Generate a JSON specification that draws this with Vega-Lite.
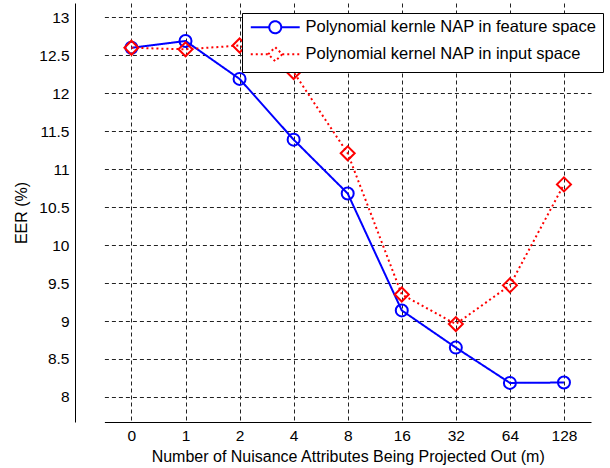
{
  "$schema": "https://vega.github.io/schema/vega-lite/v6.json",
  "autosize": {"type": "none"},
  "padding": {"left": 75, "top": 3, "right": 7, "bottom": 46},
  "width": 528,
  "height": 419,
  "background": "white",
  "config": {
    "font": "Liberation Sans",
    "view": {"stroke": null},
    "axis": {
      "labelFont": "Liberation Sans",
      "labelFontSize": 15.5,
      "labelColor": "black",
      "titleFont": "Liberation Sans",
      "titleFontSize": 16,
      "titleFontWeight": "normal",
      "titleColor": "black",
      "domainColor": "black",
      "domainWidth": 1,
      "ticks": false,
      "grid": true,
      "gridColor": "#222222",
      "gridOpacity": 1,
      "gridDash": [4, 3],
      "gridWidth": 1
    },
    "legend": {
      "labelFont": "Liberation Sans",
      "labelFontSize": 16.5,
      "labelColor": "black",
      "labelLimit": 0
    }
  },
  "data": {
    "values": [
      {"m": 0, "eer": 12.6, "series": "Polynomial kernle NAP in feature space"},
      {"m": 1, "eer": 12.69, "series": "Polynomial kernle NAP in feature space"},
      {"m": 2, "eer": 12.19, "series": "Polynomial kernle NAP in feature space"},
      {"m": 4, "eer": 11.39, "series": "Polynomial kernle NAP in feature space"},
      {"m": 8, "eer": 10.68, "series": "Polynomial kernle NAP in feature space"},
      {"m": 16, "eer": 9.14, "series": "Polynomial kernle NAP in feature space"},
      {"m": 32, "eer": 8.65, "series": "Polynomial kernle NAP in feature space"},
      {"m": 64, "eer": 8.185, "series": "Polynomial kernle NAP in feature space"},
      {"m": 128, "eer": 8.19, "series": "Polynomial kernle NAP in feature space"},
      {"m": 0, "eer": 12.6, "series": "Polynomial kernel NAP in input space"},
      {"m": 1, "eer": 12.58, "series": "Polynomial kernel NAP in input space"},
      {"m": 2, "eer": 12.63, "series": "Polynomial kernel NAP in input space"},
      {"m": 4, "eer": 12.28, "series": "Polynomial kernel NAP in input space"},
      {"m": 8, "eer": 11.21, "series": "Polynomial kernel NAP in input space"},
      {"m": 16, "eer": 9.35, "series": "Polynomial kernel NAP in input space"},
      {"m": 32, "eer": 8.96, "series": "Polynomial kernel NAP in input space"},
      {"m": 64, "eer": 9.47, "series": "Polynomial kernel NAP in input space"},
      {"m": 128, "eer": 10.8, "series": "Polynomial kernel NAP in input space"}
    ]
  },
  "encoding": {
    "x": {
      "field": "m",
      "type": "ordinal",
      "scale": {"type": "point", "range": [29.4, 516]},
      "axis": {"title": "Number of Nuisance Attributes Being Projected Out (m)", "labelAngle": 0, "labelPadding": 6, "titlePadding": 5}
    },
    "y": {
      "field": "eer",
      "type": "quantitative",
      "scale": {"domain": [7.67, 13.19], "nice": false, "zero": false},
      "axis": {"title": "EER (%)", "values": [8, 8.5, 9, 9.5, 10, 10.5, 11, 11.5, 12, 12.5, 13], "format": "~g", "labelPadding": 6, "titlePadding": 9}
    },
    "color": {
      "field": "series",
      "type": "nominal",
      "scale": {"domain": ["Polynomial kernle NAP in feature space", "Polynomial kernel NAP in input space"], "range": ["#0000ff", "#ff0000"]},
      "legend": {
        "title": null,
        "orient": "none",
        "legendX": 167,
        "legendY": 10,
        "fillColor": "white",
        "strokeColor": "black",
        "padding": 6,
        "symbolSize": 144,
        "symbolStrokeWidth": 2,
        "symbolOffset": 19,
        "labelOffset": 22,
        "rowPadding": 5,
        "encode": {
          "symbols": {
            "update": {
              "shape": {"signal": "datum.index === 0 ? 'M-4.08,0H-1M1,0H4.08M-1,0A1,1 0 1,0 1,0A1,1 0 1,0 -1,0' : 'M-4.08,0H-1.17M1.17,0H4.08M-1.17,0L0,-1.17L1.17,0L0,1.17Z'"},
              "fill": {"value": "transparent"},
              "strokeWidth": {"value": 2}
            }
          }
        }
      }
    }
  },
  "layer": [
    {
      "mark": {"type": "line", "strokeWidth": 2},
      "encoding": {
        "strokeDash": {
          "field": "series",
          "type": "nominal",
          "scale": {"domain": ["Polynomial kernle NAP in feature space", "Polynomial kernel NAP in input space"], "range": [[1, 0], [2, 3]]},
          "legend": {"title": null}
        }
      }
    },
    {
      "transform": [{"filter": "datum.series === 'Polynomial kernle NAP in feature space'"}],
      "mark": {"type": "point", "filled": false, "strokeWidth": 2, "opacity": 1, "shape": "circle", "size": 144}
    },
    {
      "transform": [{"filter": "datum.series === 'Polynomial kernel NAP in input space'"}],
      "mark": {"type": "point", "filled": false, "strokeWidth": 2, "opacity": 1, "shape": "diamond", "size": 196}
    }
  ]
}
